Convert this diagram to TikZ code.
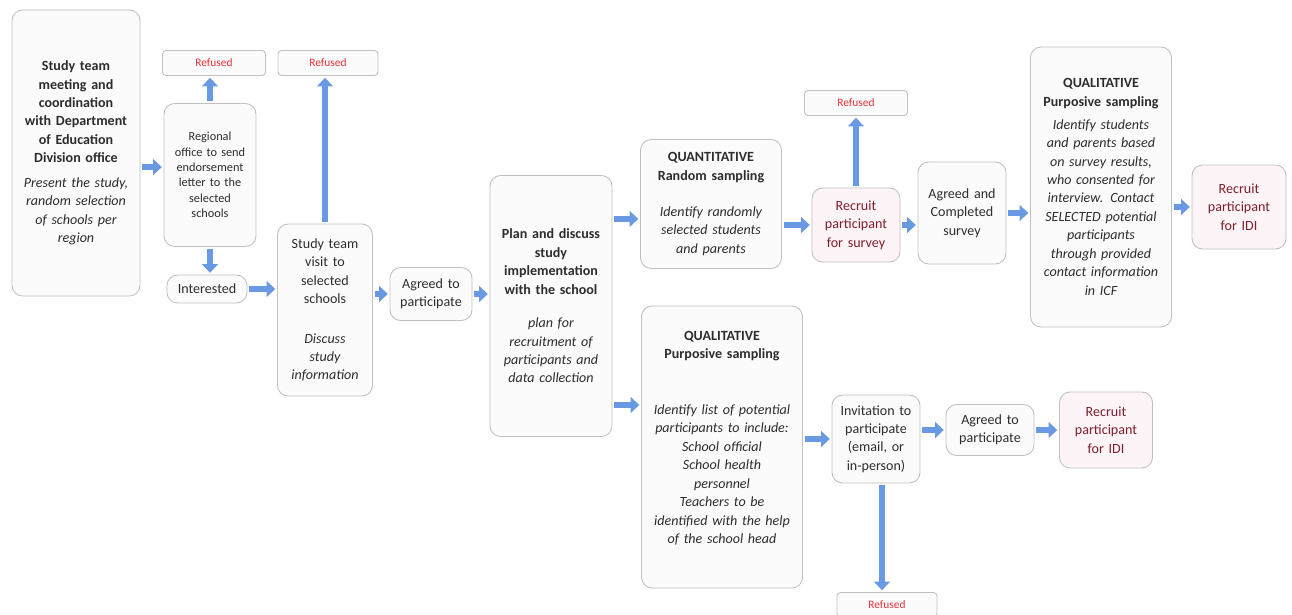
\documentclass[tikz,border=0pt]{standalone}
\usepackage{fontspec}
\setmainfont{Carlito}
\usetikzlibrary{arrows.meta}

\definecolor{arrowblue}{RGB}{104,153,226}
\definecolor{refusedred}{RGB}{232,48,58}
\definecolor{recruitred}{RGB}{128,30,45}
\definecolor{boxline}{RGB}{192,192,192}
\definecolor{boxfill}{RGB}{251,251,251}
\definecolor{pinkfill}{RGB}{252,244,246}
\definecolor{textgray}{RGB}{45,45,45}

\begin{document}
\begin{tikzpicture}[
    box/.style={draw=boxline, fill=boxfill, line width=0.5pt, rounded corners=6pt,
                align=center, inner xsep=0.08cm, inner ysep=2pt, text=textgray,
                font=\fontsize{8}{10.5}\selectfont},
    refbox/.style={box, rounded corners=2pt, text=refusedred, minimum height=0.5cm,
                   font=\fontsize{6.5}{8}\selectfont},
    recbox/.style={box, fill=pinkfill, text=recruitred},
    flow/.style={draw=arrowblue, line width=3.6pt, -{Triangle[length=5pt,width=9pt]},
                 shorten <=1pt, shorten >=1pt}
]
        \useasboundingbox (0,0) rectangle (25.84,-12.3);

        % Coordination with the division office
        \node[box, text width=2.40cm, minimum height=5.72cm] (meeting) at (1.52,-3.06)
            {{\bfseries Study team\\meeting and\\coordination\\with Department\\of Education\\Division office}\\[3.5pt]
             {\itshape Present the study,\\random selection\\of schools per\\region}};

        % Regional office step
        \node[refbox, minimum width=2.06cm] (refusedA) at (4.28,-1.26) {Refused};
        \node[box, text width=1.68cm, minimum height=2.86cm, font=\fontsize{7}{8.8}\selectfont] (regional) at (4.2,-3.5)
            {Regional\\office to send\\endorsement\\letter to the\\selected\\schools};
        \node[box, text width=1.44cm, minimum height=0.56cm] (interested) at (4.14,-5.78) {Interested};

        % School visit
        \node[refbox, minimum width=2.0cm] (refusedB) at (6.56,-1.26) {Refused};
        \node[box, text width=1.74cm, minimum height=3.44cm] (visit) at (6.5,-6.2)
            {Study team\\visit to\\selected\\schools\\[12pt]{\itshape Discuss\\study\\information}};
        \node[box, text width=1.48cm, minimum height=1.06cm] (agreedA) at (8.62,-5.88) {Agreed to\\participate};

        % Planning with the school
        \node[box, text width=2.28cm, minimum height=5.22cm] (plan) at (11.02,-6.12)
            {{\bfseries Plan and discuss\\study\\implementation\\with the school}\\[8.5pt]
             {\itshape plan for\\recruitment of\\participants and\\data collection}};

        % Quantitative strand
        \node[box, text width=2.66cm, minimum height=2.58cm] (quant) at (14.22,-4.08)
            {{\bfseries QUANTITATIVE\\Random sampling}\\[10pt]{\itshape Identify randomly\\selected students\\and parents}};
        \node[refbox, minimum width=2.06cm] (refusedC) at (17.12,-2.06) {Refused};
        \node[recbox, text width=1.6cm, minimum height=1.48cm] (survey) at (17.12,-4.5) {Recruit\\participant\\for survey};
        \node[box, text width=1.6cm, minimum height=2.04cm] (completed) at (19.24,-4.26) {Agreed and\\Completed\\survey};
        \node[box, text width=2.66cm, minimum height=5.6cm] (qualtop) at (22.02,-3.74)
            {{\bfseries QUALITATIVE\\Purposive sampling}\\[2.5pt]
             {\itshape Identify students\\and parents based\\on survey results,\\who consented for\\interview. Contact\\SELECTED potential\\participants\\through provided\\contact information\\in ICF}};
        \node[recbox, text width=1.72cm, minimum height=1.68cm] (idiA) at (24.78,-4.14) {Recruit\\participant\\for IDI};

        % Qualitative strand
        \node[box, text width=3.06cm, minimum height=5.64cm] (qualbot) at (14.44,-8.94)
            {{\bfseries QUALITATIVE\\Purposive sampling}\\[21pt]
             {\itshape Identify list of potential\\participants to include:\\School official\\School health\\personnel\\Teachers to be\\identified with the help\\of the school head}\par\vspace{10pt}};
        \node[box, text width=1.6cm, minimum height=1.76cm] (invite) at (17.52,-8.78) {Invitation to\\participate\\(email, or\\in-person)};
        \node[box, text width=1.6cm, minimum height=1.02cm] (agreedB) at (19.8,-8.6) {Agreed to\\participate};
        \node[recbox, text width=1.7cm, minimum height=1.52cm] (idiB) at (22.12,-8.6) {Recruit\\participant\\for IDI};
        \node[refbox, minimum width=2.0cm] (refusedD) at (17.74,-12.1) {Refused};

        % Arrow entry points off the centre line
        \coordinate (inR) at ([yshift=4.5pt]regional.west);
        \coordinate (inQ) at ([yshift=-8.5pt]quant.west);
        \coordinate (inL) at ([yshift=0.84cm]qualbot.west);
        \coordinate (outI) at ([xshift=0.12cm]invite.south);

        % Arrows
        \draw[flow] (meeting.east |- inR) -- (inR);
        \draw[flow] (regional.north) -- (regional.north |- refusedA.south);
        \draw[flow] (regional.south) -- (regional.south |- interested.north);
        \draw[flow] (interested.east) -- (interested.east -| visit.west);
        \draw[flow] (visit.north) -- (visit.north |- refusedB.south);
        \draw[flow] (visit.east |- agreedA.west) -- (agreedA.west);
        \draw[flow] (agreedA.east) -- (agreedA.east -| plan.west);
        \draw[flow] (plan.east |- inQ) -- (inQ);
        \draw[flow] (plan.east |- inL) -- (inL);
        \draw[flow] (quant.east |- survey.west) -- (survey.west);
        \draw[flow] (survey.north) -- (refusedC.south);
        \draw[flow] (survey.east) -- (survey.east -| completed.west);
        \draw[flow] (completed.east) -- (completed.east -| qualtop.west);
        \draw[flow] (qualtop.east |- idiA.west) -- (idiA.west);
        \draw[flow] (qualbot.east |- invite.west) -- (invite.west);
        \draw[flow] (invite.east |- agreedB.west) -- (agreedB.west);
        \draw[flow] (agreedB.east) -- (idiB.west);
        \draw[flow] (outI) -- (outI |- refusedD.north);
\end{tikzpicture}
\end{document}
